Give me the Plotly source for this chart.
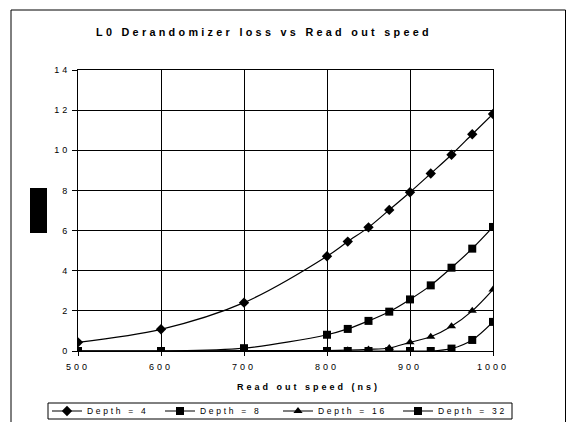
import plotly.graph_objects as go

speed = [500, 600, 700, 800, 825, 850, 875, 900, 925, 950, 975, 1000]
depth4 = [0.43, 1.08, 2.41, 4.72, 5.45, 6.16, 7.03, 7.91, 8.84, 9.78, 10.8, 11.81]
depth8 = [0.0, 0.0, 0.14, 0.81, 1.1, 1.5, 1.96, 2.57, 3.27, 4.15, 5.1, 6.18]
depth16 = [0.0, 0.0, 0.02, 0.02, 0.04, 0.08, 0.15, 0.43, 0.71, 1.23, 2.0, 3.06]
depth32 = [0.0, 0.0, 0.0, 0.0, 0.0, 0.0, 0.0, 0.0, 0.0, 0.12, 0.55, 1.45]

series_names = ["Depth = 4", "Depth = 8", "Depth = 16", "Depth = 32"]
x_ticks = [500, 600, 700, 800, 900, 1000]
y_ticks = [0, 2, 4, 6, 8, 10, 12, 14]

title_text = "L0 Derandomizer loss vs Read out speed"
xaxis_title = "Read out speed (ns)"

FONT = "Liberation Sans, Arial, sans-serif"
W, H = 566, 422
L, R, T, B = 78, 73, 70, 71
PW, PH = W - L - R, H - T - B


def spaced(t, ls):
    return f'<span style="letter-spacing:{ls}px">{t}</span>'


def px(xp):
    return (xp - L) / PW


def py(yp):
    return (H - B - yp) / PH


fig = go.Figure()
symbols = ["diamond", "square", "triangle-up", "square"]
sizes = [8, 8, 8, 8]
legend_ids = ["legend", "legend2", "legend3", "legend4"]
legend_left = [47, 160, 278, 398]
for name, ys, sym, sz, lid in zip(series_names, [depth4, depth8, depth16, depth32],
                                   symbols, sizes, legend_ids):
    fig.add_trace(go.Scatter(
        x=speed, y=ys, mode="lines+markers",
        name=spaced(name, 2.7), legend=lid,
        line=dict(color="black", width=1.2, shape="spline", smoothing=0.9),
        marker=dict(symbol=sym, size=sz, color="black"),
    ))

legend_layout = {}
for lid, lx in zip(legend_ids, legend_left):
    legend_layout[lid] = dict(
        orientation="h", x=lx / W, xanchor="left", xref="container",
        y=1 - 411 / H, yanchor="middle", yref="container",
        borderwidth=0, bgcolor="rgba(0,0,0,0)",
        font=dict(size=8.5, family=FONT, color="black"),
    )

fig.update_layout(
    width=W, height=H,
    margin=dict(l=L, r=R, t=T, b=B, autoexpand=False),
    paper_bgcolor="white", plot_bgcolor="white",
    font=dict(family=FONT, color="black", size=9),
    title=dict(text="<b>" + spaced(title_text, 3.3) + "</b>",
               x=264 / W, xref="container", xanchor="center",
               y=1 - 32 / H, yref="container", yanchor="middle",
               font=dict(size=10.8, family=FONT, color="black")),
    showlegend=True,
    **legend_layout,
)
fig.add_annotation(text="<b>" + spaced(xaxis_title, 3) + "</b>",
                   xref="paper", yref="paper", x=px(308), y=py(387),
                   xanchor="center", yanchor="middle", showarrow=False,
                   font=dict(size=9, family=FONT, color="black"))
fig.update_xaxes(
    range=[500, 1000], tickvals=x_ticks,
    ticktext=[spaced(str(v), 3) for v in x_ticks],
    showgrid=True, gridcolor="black", gridwidth=1,
    showline=True, linecolor="black", linewidth=1, mirror=True,
    ticks="outside", ticklen=4, tickcolor="black", zeroline=False,
    ticklabelstandoff=3,
    tickfont=dict(size=9, family=FONT, color="black"),
)
fig.update_yaxes(
    range=[0, 14], tickvals=y_ticks,
    ticktext=[spaced(str(v), 3) for v in y_ticks],
    showgrid=True, gridcolor="black", gridwidth=1,
    showline=True, linecolor="black", linewidth=1, mirror=True,
    ticks="outside", ticklen=5, tickcolor="black", zeroline=False,
    tickfont=dict(size=9, family=FONT, color="black"),
)

# redaction block where the y-axis title sits
fig.add_shape(type="rect", xref="paper", yref="paper",
              x0=px(30), x1=px(47), y0=py(233), y1=py(188),
              fillcolor="black", line=dict(width=0))
# outer chart frame
fig.add_shape(type="rect", xref="paper", yref="paper",
              x0=px(11), x1=px(565.5), y0=py(430), y1=py(10),
              fillcolor="rgba(0,0,0,0)", line=dict(color="black", width=1),
              layer="below")
# legend frame
fig.add_shape(type="rect", xref="paper", yref="paper",
              x0=px(48), x1=px(512), y0=py(419), y1=py(403),
              fillcolor="white", line=dict(color="black", width=1),
              layer="below")

fig.write_html("out.html",
               config={"displayModeBar": False},
               post_script="document.body.style.margin='0';"
                           "document.body.style.overflow='hidden';")
